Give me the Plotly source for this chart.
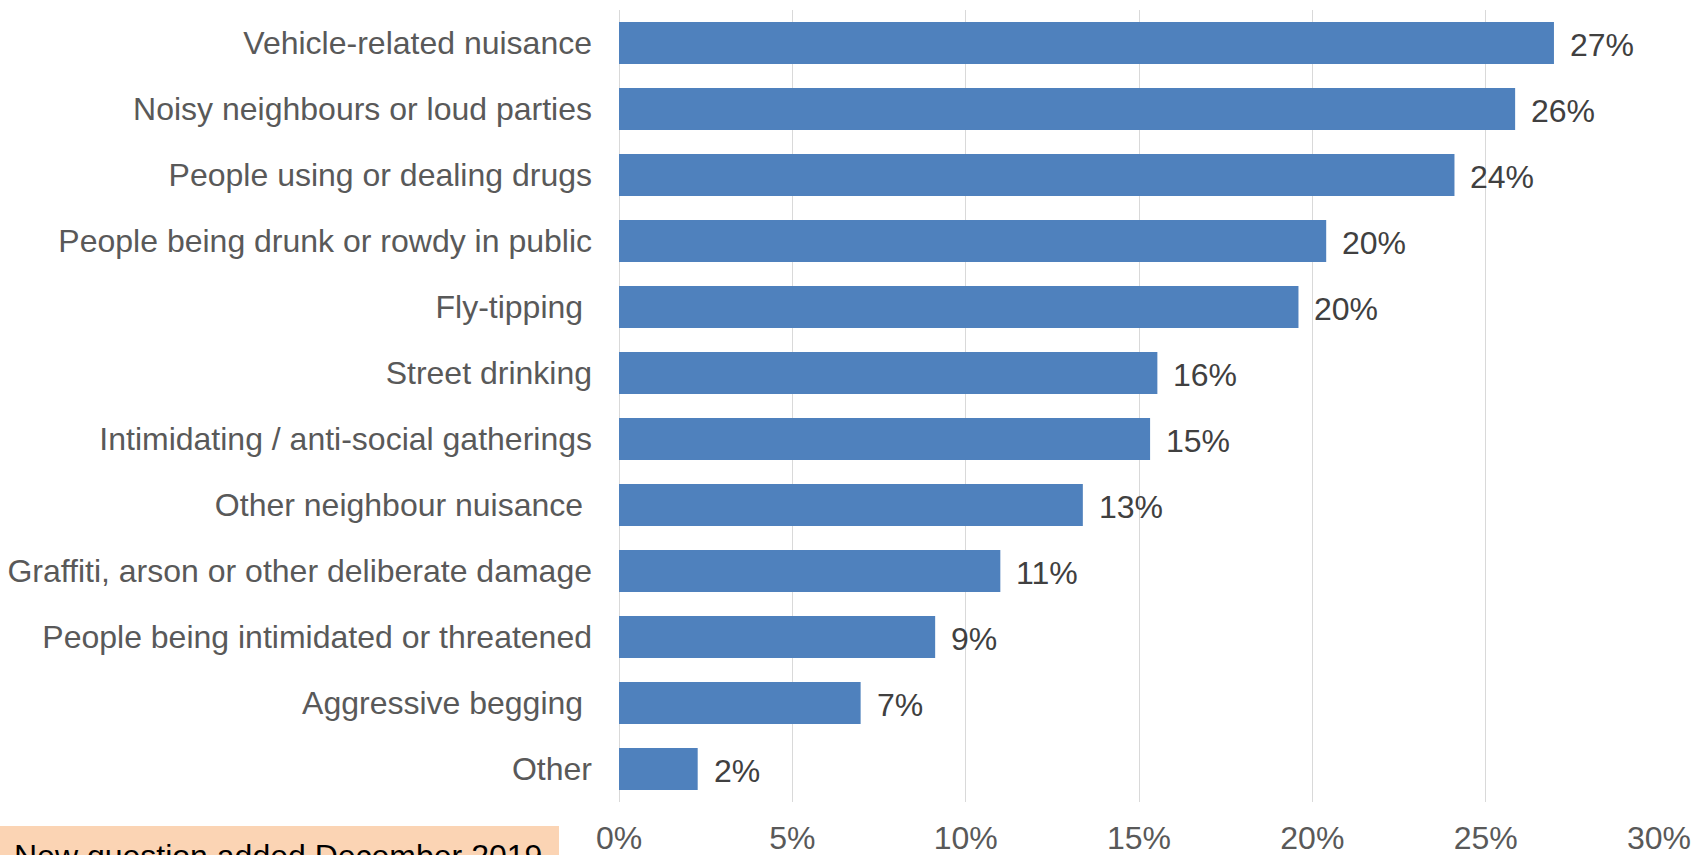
import plotly.graph_objects as go

categories = [
    "Vehicle-related nuisance",
    "Noisy neighbours or loud parties",
    "People using or dealing drugs",
    "People being drunk or rowdy in public",
    "Fly-tipping\u00a0",
    "Street drinking",
    "Intimidating / anti-social gatherings",
    "Other neighbour nuisance\u00a0",
    "Graffiti, arson or other deliberate damage",
    "People being intimidated or threatened",
    "Aggressive begging\u00a0",
    "Other",
]
values = [0.2697, 0.2585, 0.2410, 0.2040, 0.1960, 0.1553, 0.1532, 0.1338, 0.1100, 0.0912, 0.0697, 0.0227]
x_ticks = [0, 0.05, 0.10, 0.15, 0.20, 0.25, 0.30]
note_text = "New question added December 2019"

FONT = "Liberation Sans, Arial, sans-serif"
FS = 32
W, H = 1694, 855
ML, MR, MT, MB = 619, 35, 10, 53
PW, PH = W - ML - MR, H - MT - MB

fig = go.Figure()
fig.add_trace(go.Bar(
    x=values, y=categories, orientation="h",
    marker=dict(color="#4f81bd", line=dict(width=0)),
    width=0.64, hoverinfo="x+y",
))

annotations = []
for c, v in zip(categories, values):
    annotations.append(dict(
        x=v, y=c, xref="x", yref="y", text=f"{round(v*100):.0f}%",
        showarrow=False, xanchor="left", yanchor="middle", xshift=14, yshift=-2,
        font=dict(family=FONT, size=FS, color="#404040"),
    ))

def px_to_paper_x(px):
    return (px - ML) / PW

def px_to_paper_y(py):
    return (H - MB - py) / PH

annotations.append(dict(
    x=px_to_paper_x(12), y=px_to_paper_y(856), xref="paper", yref="paper",
    text=note_text, showarrow=False, xanchor="left", yanchor="middle",
    font=dict(family=FONT, size=FS, color="#000000"),
))

fig.add_shape(
    type="rect", xref="paper", yref="paper",
    x0=px_to_paper_x(0), x1=px_to_paper_x(559),
    y0=px_to_paper_y(826), y1=px_to_paper_y(900),
    fillcolor="#fbd4b4", line=dict(width=0), layer="below",
)

fig.update_layout(
    width=W, height=H,
    margin=dict(l=ML, r=MR, t=MT, b=MB, autoexpand=False),
    paper_bgcolor="white", plot_bgcolor="white",
    showlegend=False,
    annotations=annotations,
    font=dict(family=FONT, size=FS, color="#595959"),
)
fig.update_xaxes(
    range=[0, 0.30], tickvals=x_ticks, tickformat=".0%",
    showgrid=True, gridcolor="#d9d9d9", gridwidth=1.3,
    zeroline=True, zerolinecolor="#d9d9d9", zerolinewidth=1.3,
    showline=False, ticks="", ticklabelstandoff=14, automargin=False,
    tickfont=dict(family=FONT, size=FS, color="#595959"),
)
fig.update_yaxes(
    autorange="reversed", showgrid=False, showline=False, ticks="",
    ticklabelstandoff=26, automargin=False,
    tickfont=dict(family=FONT, size=FS, color="#595959"),
)

fig.write_html("out.html", config={"displayModeBar": False},
               post_script="document.body.style.margin='0';")
